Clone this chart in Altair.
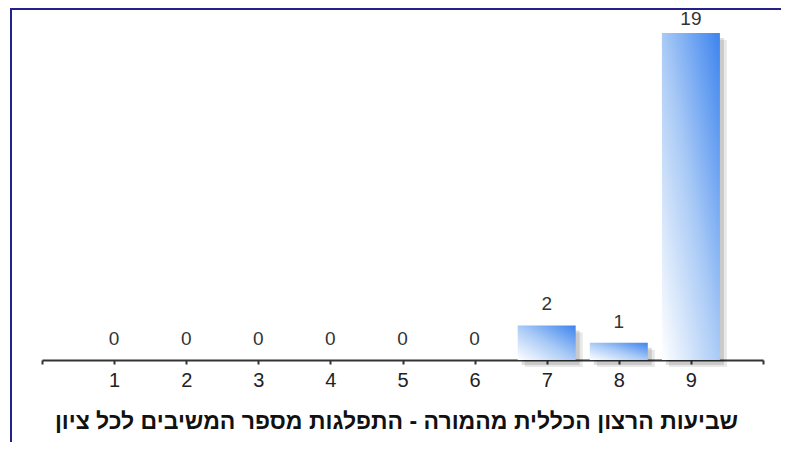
import altair as alt
import pandas as pd

scores = [1, 2, 3, 4, 5, 6, 7, 8, 9]
counts = [0, 0, 0, 0, 0, 0, 2, 1, 19]
title_text = "שביעות הרצון הכללית מהמורה - התפלגות מספר המשיבים לכל ציון"
tick_values = [0, 1, 2, 3, 4, 5, 6, 7, 8, 9, 10]

df = pd.DataFrame({"score": scores, "count": counts})
FONT = "Liberation Sans"

x_scale = alt.Scale(domain=[0, 10], nice=False, zero=False, padding=0)
y_scale = alt.Scale(domain=[0, 19], nice=False)

x_enc = alt.X(
    "score:Q",
    scale=x_scale,
    axis=alt.Axis(
        values=tick_values,
        labelExpr="datum.value >= 1 && datum.value <= 9 ? datum.label : ''",
        grid=False,
        title=title_text,
        titleFont=FONT,
        titleFontSize=23,
        titleFontWeight="bold",
        titleColor="#111111",
        titlePadding=20,
        titleX=354,
        labelFont=FONT,
        labelFontSize=20,
        labelColor="#222222",
        labelPadding=6,
        domainColor="#333333",
        domainWidth=2,
        tickColor="#333333",
        tickWidth=2,
        tickSize=4,
    ),
)
y_enc = alt.Y("count:Q", scale=y_scale, axis=None)

base = alt.Chart(df)

shadow1 = base.transform_filter("datum.count > 0").mark_bar(
    size=58, color="#000000", opacity=0.09, xOffset=7, yOffset=7
).encode(x=x_enc, y=y_enc)
shadow2 = base.transform_filter("datum.count > 0").mark_bar(
    size=58, color="#000000", opacity=0.13, xOffset=4, yOffset=5
).encode(x=x_enc, y=y_enc)

grad = alt.Gradient(
    gradient="linear",
    stops=[
        alt.GradientStop(color="#ffffff", offset=0),
        alt.GradientStop(color="#a9caf6", offset=0.5),
        alt.GradientStop(color="#3d84ee", offset=1),
    ],
    x1=0, y1=1, x2=1, y2=0,
)
bars = base.transform_filter("datum.count > 0").mark_bar(size=58, color=grad).encode(
    x=x_enc, y=y_enc
)

labels = base.transform_calculate(ly="min(datum.count + 0.88, 19.47)").mark_text(
    baseline="alphabetic", font=FONT, fontSize=19, color="#333333"
).encode(x=x_enc, y=alt.Y("ly:Q", scale=y_scale, axis=None), text="count:Q")

frame_df = pd.DataFrame({"a": [0]})
frame_left = alt.Chart(frame_df).mark_rule(color="#22228a", strokeWidth=2).encode(
    x=alt.value(-31), y=alt.value(-25), y2=alt.value(420)
)
frame_top = alt.Chart(frame_df).mark_rule(color="#22228a", strokeWidth=2).encode(
    x=alt.value(-32), x2=alt.value(760), y=alt.value(-24)
)

chart = alt.layer(shadow1, shadow2, bars, labels, frame_left, frame_top).properties(
    width=721,
    height=327,
    background="white",
    autosize=alt.AutoSizeParams(type="none"),
    padding={"left": 34, "top": 25, "right": 18, "bottom": 82},
).configure_view(strokeWidth=0, stroke="transparent")

chart.save("out.html", embed_options={"renderer": "svg", "actions": False})
